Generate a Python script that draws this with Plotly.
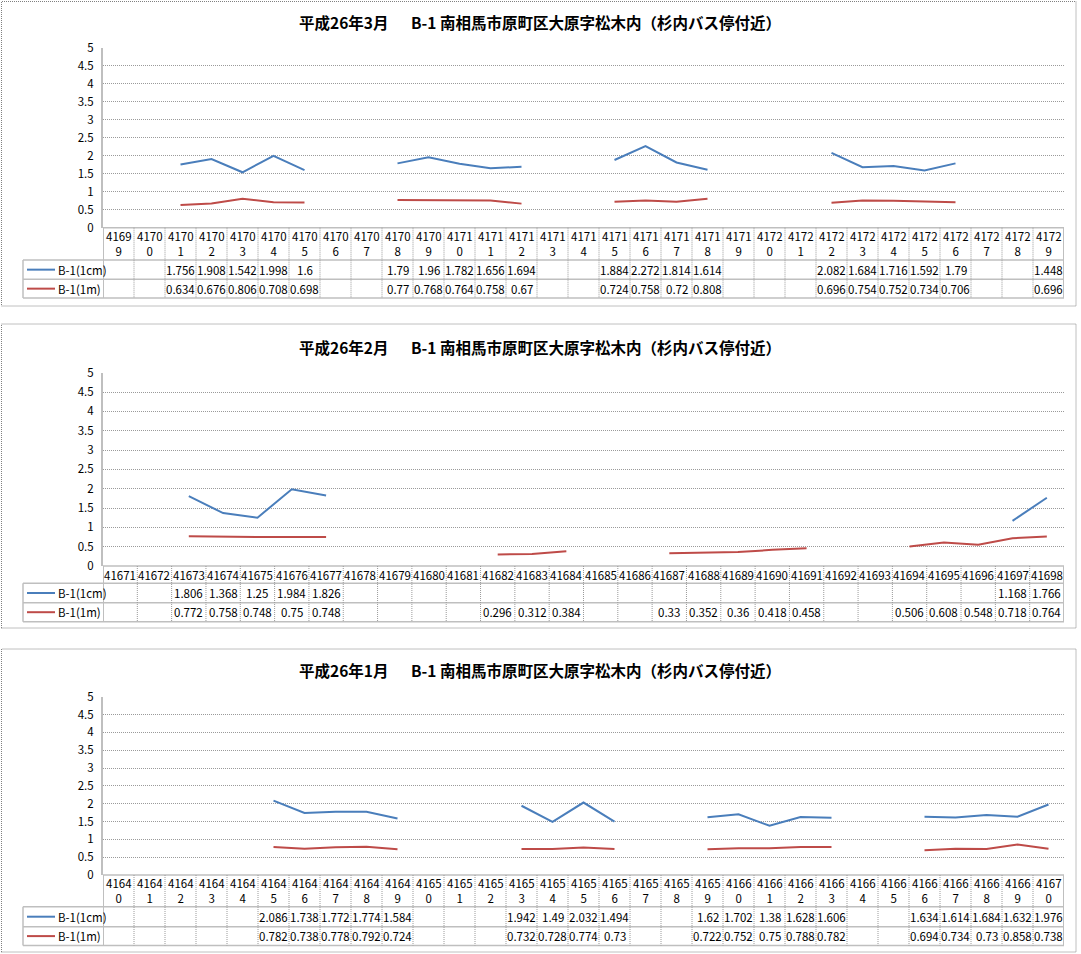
import plotly.graph_objects as go

W, H = 1081, 954

# ---------------- data ----------------
mar_title = "平成26年3月\u3000\u00a0\u00a0B-1 南相馬市原町区大原字松木内（杉内バス停付近）"
mar_dates = list(range(41699, 41730))
mar_1cm = [None, None, 1.756, 1.908, 1.542, 1.998, 1.6, None, None, 1.79, 1.96, 1.782, 1.656, 1.694,
           None, None, 1.884, 2.272, 1.814, 1.614, None, None, None, 2.082, 1.684, 1.716, 1.592, 1.79,
           None, None, 1.448]
mar_1m = [None, None, 0.634, 0.676, 0.806, 0.708, 0.698, None, None, 0.77, 0.768, 0.764, 0.758, 0.67,
          None, None, 0.724, 0.758, 0.72, 0.808, None, None, None, 0.696, 0.754, 0.752, 0.734, 0.706,
          None, None, 0.696]

feb_title = "平成26年2月\u3000\u00a0\u00a0B-1 南相馬市原町区大原字松木内（杉内バス停付近）"
feb_dates = list(range(41671, 41699))
feb_1cm = [None, None, 1.806, 1.368, 1.25, 1.984, 1.826,
           None, None, None, None, None, None, None, None, None, None, None, None, None, None, None,
           None, None, None, None, 1.168, 1.766]
feb_1m = [None, None, 0.772, 0.758, 0.748, 0.75, 0.748, None, None, None, None, 0.296, 0.312, 0.384,
          None, None, 0.33, 0.352, 0.36, 0.418, 0.458, None, None, 0.506, 0.608, 0.548, 0.718, 0.764]

jan_title = "平成26年1月\u3000\u00a0\u00a0B-1 南相馬市原町区大原字松木内（杉内バス停付近）"
jan_dates = list(range(41640, 41671))
jan_1cm = [None, None, None, None, None, 2.086, 1.738, 1.772, 1.774, 1.584, None, None, None,
           1.942, 1.49, 2.032, 1.494, None, None, 1.62, 1.702, 1.38, 1.628, 1.606, None, None,
           1.634, 1.614, 1.684, 1.632, 1.976]
jan_1m = [None, None, None, None, None, 0.782, 0.738, 0.778, 0.792, 0.724, None, None, None,
          0.732, 0.728, 0.774, 0.73, None, None, 0.722, 0.752, 0.75, 0.788, 0.782, None, None,
          0.694, 0.734, 0.73, 0.858, 0.738]

series_names = ["B-1(1cm)", "B-1(1m)"]
y_ticks = [0, 0.5, 1, 1.5, 2, 2.5, 3, 3.5, 4, 4.5, 5]

# ---------------- layout (pixels) ----------------
panels = [
    dict(title=mar_title, dates=mar_dates, s=[mar_1cm, mar_1m], box=(1.5, 306), ty=22,
         y5=48, y0=227.7, rows=(260, 279.3, 298), wrap=True),
    dict(title=feb_title, dates=feb_dates, s=[feb_1cm, feb_1m], box=(324, 628), ty=346.5,
         y5=372.7, y0=566, rows=(583.3, 602.7, 621.7), wrap=False),
    dict(title=jan_title, dates=jan_dates, s=[jan_1cm, jan_1m], box=(649, 952), ty=670,
         y5=696.7, y0=875, rows=(906.7, 926.7, 945.5), wrap=True),
]

BLUE = "#4A7EBB"
RED = "#BE4B48"
COLORS = [BLUE, RED]
GRID = "#9A9A9A"
AXIS = "#BFBFBF"
FONT = "Noto Sans CJK JP"
FS = 11.5
L, R, LEG = 103, 1064, 23


def X(px):
    return px / W


def Y(py):
    return 1 - py / H


fig = go.Figure()
shapes = []
annotations = []

for i, p in enumerate(panels):
    k = "" if i == 0 else str(i + 1)
    xa, ya = "x" + k, "y" + k
    d = p["dates"]
    for j in range(2):
        fig.add_trace(go.Scatter(x=d, y=p["s"][j], mode="lines", name=series_names[j],
                                 line=dict(color=COLORS[j], width=2), connectgaps=False,
                                 xaxis=xa, yaxis=ya, showlegend=False, hoverinfo="skip"))
    fig.update_layout({
        "xaxis" + k: dict(domain=[X(L), X(R)], range=[d[0] - 0.5, d[-1] + 0.5], anchor=ya,
                          showgrid=False, showticklabels=False, zeroline=False, showline=False,
                          fixedrange=True, automargin=False),
        "yaxis" + k: dict(domain=[Y(p["y0"]), Y(p["y5"])], range=[0, 5], tickvals=y_ticks,
                          ticktext=[f"{v:g}" for v in y_ticks], anchor=xa,
                          showgrid=True, gridcolor=GRID, griddash="1px,1px", gridwidth=1,
                          zeroline=False, showline=True, linecolor=AXIS, linewidth=2,
                          ticks="", ticklabelstandoff=5, fixedrange=True, automargin=False,
                          tickfont=dict(family=FONT, size=FS, color="#000")),
    })

    y0, r_cat, r1, r2 = p["y0"], p["rows"][0], p["rows"][1], p["rows"][2]
    # panel border
    shapes.append(dict(type="rect", xref="paper", yref="paper", x0=X(1.5), x1=X(1076),
                       y0=Y(p["box"][1]), y1=Y(p["box"][0]),
                       line=dict(color="#808080", width=1, dash="1px,1px")))
    # title
    annotations.append(dict(text="<b>" + p["title"] + "</b>", xref="paper", yref="paper",
                            x=X(540), y=Y(p["ty"]), xanchor="center", yanchor="middle",
                            showarrow=False, font=dict(family=FONT, size=15.5, color="#000")))
    # table horizontal lines
    shapes.append(dict(type="line", xref="paper", yref="paper", x0=X(L), x1=X(R), y0=Y(y0), y1=Y(y0),
                       line=dict(color=AXIS, width=1.5)))
    for yy in (r_cat, r1, r2):
        shapes.append(dict(type="line", xref="paper", yref="paper", x0=X(LEG), x1=X(R), y0=Y(yy), y1=Y(yy),
                           line=dict(color=AXIS, width=1.5)))
    # table vertical lines
    for t in range(len(d) + 1):
        xb = d[0] - 0.5 + t
        edge = t == 0 or t == len(d)
        shapes.append(dict(type="line", xref=xa, yref="paper", x0=xb, x1=xb, y0=Y(y0), y1=Y(r2),
                           line=dict(color=AXIS if edge else GRID, width=2 if edge else 1,
                                     dash="solid" if edge else "1px,1px")))
    shapes.append(dict(type="line", xref="paper", yref="paper", x0=X(LEG), x1=X(LEG), y0=Y(r_cat), y1=Y(r2),
                       line=dict(color=AXIS, width=1.5)))
    # category labels
    for dd in d:
        s = str(dd)
        lab = s[:4] + "<br>" + s[4:] if p["wrap"] else s
        annotations.append(dict(text=lab, xref=xa, yref="paper", x=dd, y=Y((y0 + r_cat) / 2),
                                xanchor="center", yanchor="middle", showarrow=False,
                                font=dict(family=FONT, size=FS, color="#000")))
    # value rows
    row_c = [(r_cat + r1) / 2, (r1 + r2) / 2]
    for j in range(2):
        for dd, v in zip(d, p["s"][j]):
            if v is None:
                continue
            annotations.append(dict(text=f"{v:g}", xref=xa, yref="paper", x=dd, y=Y(row_c[j]),
                                    xanchor="center", yanchor="middle", showarrow=False,
                                    font=dict(family=FONT, size=FS, color="#000")))
        # legend key
        shapes.append(dict(type="line", xref="paper", yref="paper", x0=X(27), x1=X(55),
                           y0=Y(row_c[j]), y1=Y(row_c[j]), line=dict(color=COLORS[j], width=2)))
        annotations.append(dict(text=series_names[j], xref="paper", yref="paper", x=X(55.5),
                                y=Y(row_c[j]), xanchor="left", yanchor="middle", showarrow=False,
                                font=dict(family=FONT, size=FS, color="#000")))

fig.update_layout(width=W, height=H, margin=dict(l=0, r=0, t=0, b=0, pad=0, autoexpand=False),
                  paper_bgcolor="white", plot_bgcolor="white",
                  shapes=shapes, annotations=annotations, showlegend=False)

fig.write_html("out.html", config={"displayModeBar": False},
               post_script="document.body.style.margin='0';")
